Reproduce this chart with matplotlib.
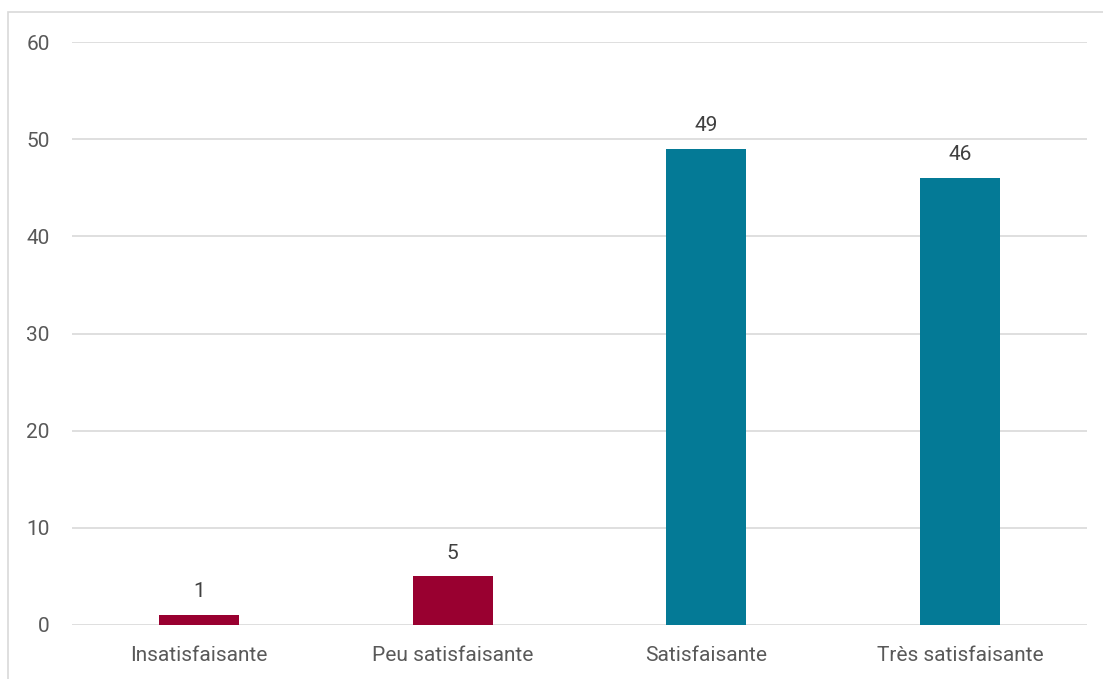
import matplotlib.pyplot as plt
from matplotlib.patches import Rectangle

categories = ["Insatisfaisante", "Peu satisfaisante", "Satisfaisante", "Très satisfaisante"]
values = [1, 5, 49, 46]
bar_colors = ["#990030", "#990030", "#047A96", "#047A96"]

plt.rcParams['font.family'] = ['Roboto', 'DejaVu Sans']

fig = plt.figure(figsize=(11.03, 6.79), dpi=100)
W, H = 1103, 679
ax = fig.add_axes([72 / W, 1 - 625 / H, (1087 - 72) / W, (625 - 42) / H])

x = range(len(categories))
ax.bar(x, values, width=0.315, color=bar_colors, zorder=3)
for xi, v in zip(x, values):
    ax.annotate(str(v), (xi, v), xytext=(0, 10), textcoords="offset points",
                ha="center", va="bottom", fontsize=15, color="#404040")

ax.set_xlim(-0.5, len(categories) - 0.5)
ax.set_ylim(0, 60)
ax.set_yticks(range(0, 61, 10))
ax.set_xticks(list(x))
ax.set_xticklabels(categories)
ax.tick_params(axis="both", length=0, labelsize=15, labelcolor="#595959")
ax.tick_params(axis="x", pad=15)
ax.tick_params(axis="y", pad=16)
ax.grid(axis="y", color="#D9D9D9", linewidth=1.2, zorder=0)
for s in ax.spines.values():
    s.set_visible(False)

fig.patches.append(Rectangle((8 / W, -0.1), 1.2, 1 - 12 / H + 0.1, transform=fig.transFigure,
                             fill=False, edgecolor="#D9D9D9", linewidth=1.2))

fig.savefig("out.png", dpi=100)
